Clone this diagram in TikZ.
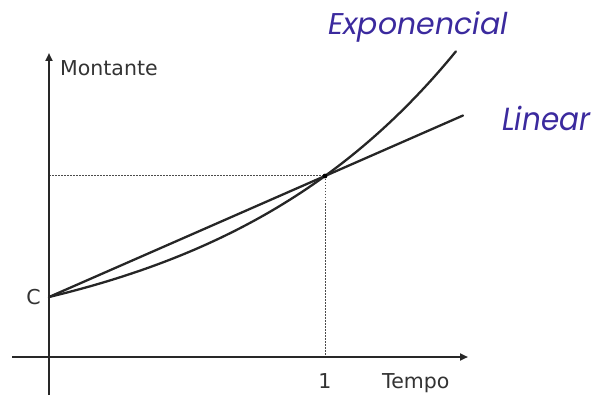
\documentclass[tikz,border=0pt]{standalone}
\usepackage{fontspec}
\usetikzlibrary{arrows.meta}
\newfontfamily\axfont{DejaVu Sans}
\newfontfamily\labfont{Poppins}
\definecolor{labpurple}{RGB}{59,42,158}
\definecolor{axgray}{RGB}{40,40,40}
\begin{document}
\begin{tikzpicture}[x=1pt,y=-1pt,
  axis/.style={draw=axgray,line width=2.2pt,-{Triangle[length=8pt,width=7pt]}},
  curve/.style={draw=black!85,line width=2.3pt,line cap=round},
  guide/.style={draw=black!70,line width=1pt,dash pattern=on 1.5pt off 1.5pt},
  axlabel/.style={font=\axfont\fontsize{20.5}{24}\selectfont,text=black!80,inner sep=0pt},
  curvelabel/.style={font=\labfont\itshape\fontsize{30}{36}\selectfont,text=labpurple,inner sep=0pt}]
\useasboundingbox (0,0) rectangle (594,398);
% key points
\coordinate (O) at (49,357);
\coordinate (ytop) at (49,53);
\coordinate (ybot) at (49,395);
\coordinate (xleft) at (12,357);
\coordinate (xright) at (468,357);
\coordinate (C) at (49,297);
\coordinate (P) at (325,176);
\coordinate (P0) at (49,176);
\coordinate (P1) at (325,357);
\coordinate (Lend) at (463,115.5);
% guides
\draw[guide] (P0) -- (P);
\draw[guide] (P) -- (P1);
% axes
\draw[axis] (ybot) -- (ytop);
\draw[axis] (xleft) -- (xright);
% curves
\draw[curve] (C) -- (Lend);
\draw[curve] plot[domain=0:1.475,samples=80,smooth] ({49+276*\x},{357-60*exp(1.1043*\x)});
\fill[black] (P) circle (2.4pt);
% labels
\node[axlabel,anchor=base west] (montante) at (60,76) {Montante};
\node[axlabel,anchor=base west] (tempo) at (382,388) {Tempo};
\node[axlabel,anchor=base] (um) at (325,388) {1};
\node[axlabel] (clabel) at (33.5,297.5) {C};
\node[curvelabel,anchor=base west] (expo) at (328,35) {Exponencial};
\node[curvelabel,font=\labfont\itshape\fontsize{32}{38}\selectfont,anchor=base west] (lin) at (502,131) {\scalebox{0.92}[1]{Linear}};
\end{tikzpicture}
\end{document}
